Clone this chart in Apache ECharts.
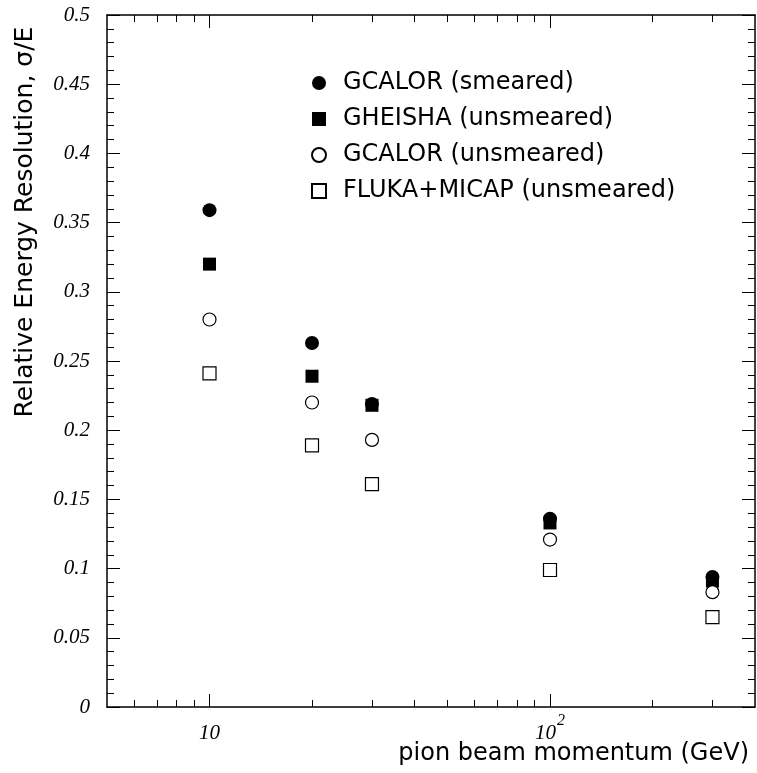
<!doctype html>
<html>
<head>
<meta charset="UTF-8"/>
<title>pion energy resolution</title>
<script src="https://cdn.jsdelivr.net/npm/echarts@6/dist/echarts.min.js"></script>
<style>
html,body{margin:0;padding:0;background:#fff;}
#chart{width:757px;height:773px;}
</style>
</head>
<body>
<div id="chart"></div>
<script>
// beam momenta (GeV)
var momenta = [10, 20, 30, 100, 300];
// sigma/E per simulation
var gcalorSmeared   = [0.359, 0.263, 0.219, 0.136, 0.094];
var gheishaUnsm     = [0.320, 0.239, 0.218, 0.133, 0.091];
var gcalorUnsm      = [0.280, 0.220, 0.193, 0.121, 0.083];
var flukaMicapUnsm  = [0.241, 0.189, 0.161, 0.099, 0.065];

var seriesNames = ['GCALOR (smeared)', 'GHEISHA (unsmeared)', 'GCALOR (unsmeared)', 'FLUKA+MICAP (unsmeared)'];

var xMajor = [10, 100];
var xMinor = [6, 7, 8, 9, 20, 30, 40, 50, 60, 70, 80, 90, 200, 300];

function pairs(ys) {
    return momenta.map(function (x, i) { return [x, ys[i]]; });
}

var myChart = echarts.init(document.getElementById('chart'));

var black = '#000';
var sans = 'DejaVu Sans';

function xAx(pos, vals, len, showLine, showLabel) {
    return {
        type: 'log',
        logBase: 10,
        min: 5,
        max: 400,
        position: pos,
        axisLine: { show: showLine, onZero: false, lineStyle: { color: black, width: 1.5 } },
        axisTick: { show: true, inside: true, length: len, customValues: vals, lineStyle: { color: black, width: 1 } },
        axisLabel: {
            show: showLabel,
            customValues: [10, 100],
            margin: 6,
            color: black,
            formatter: function (v) {
                return v === 10 ? '{b|10}' : '{b|10}{s|2}';
            },
            rich: {
                b: { fontFamily: 'Liberation Serif', fontStyle: 'italic', fontSize: 21, color: black, padding: [10, 0, 0, 0] },
                s: { fontFamily: 'Liberation Serif', fontStyle: 'italic', fontSize: 16, color: black, verticalAlign: 'top', padding: [0, 0, 0, 1] }
            }
        },
        splitLine: { show: false }
    };
}

function yAx(pos, showLabel) {
    return {
        type: 'value',
        min: 0,
        max: 0.5,
        interval: 0.05,
        position: pos,
        axisLine: { show: true, onZero: false, lineStyle: { color: black, width: 1.5 } },
        axisTick: { show: true, inside: true, length: 13, lineStyle: { color: black, width: 1 } },
        minorTick: { show: true, splitNumber: 5, length: 7, lineStyle: { color: black, width: 1 } },
        axisLabel: {
            show: showLabel,
            margin: 17,
            fontFamily: 'Liberation Serif',
            fontStyle: 'italic',
            fontSize: 21,
            color: black,
            formatter: function (v) { return String(+v.toFixed(2)); }
        },
        splitLine: { show: false }
    };
}

option = {
    backgroundColor: '#fff',
    animation: false,
    grid: { left: 107, right: 2, top: 15, bottom: 66 },
    xAxis: [
        xAx('bottom', xMajor, 13, true, true),
        xAx('bottom', xMinor, 7, false, false),
        xAx('top', xMajor, 13, true, false),
        xAx('top', xMinor, 7, false, false)
    ],
    yAxis: [
        yAx('left', true),
        yAx('right', false)
    ],
    legend: {
        orient: 'vertical',
        left: 306,
        top: 66,
        itemGap: 12,
        itemWidth: 14,
        itemHeight: 14,
        textStyle: { fontFamily: sans, fontSize: 24, color: black, padding: [0, 0, 0, 12] },
        data: [
            { name: seriesNames[0], icon: 'circle' },
            { name: seriesNames[1], icon: 'rect' },
            { name: seriesNames[2], icon: 'circle' },
            { name: seriesNames[3], icon: 'rect' }
        ]
    },
    graphic: [
        {
            type: 'text',
            x: 25,
            y: 222,
            rotation: Math.PI / 2,
            style: {
                text: 'Relative Energy Resolution, σ/E',
                font: '25px "DejaVu Sans"',
                fill: black,
                textAlign: 'center',
                textVerticalAlign: 'middle'
            }
        },
        {
            type: 'text',
            x: 749,
            y: 754,
            style: {
                text: 'pion beam momentum (GeV)',
                font: '24px "DejaVu Sans"',
                fill: black,
                textAlign: 'right',
                textVerticalAlign: 'middle'
            }
        }
    ],
    series: [
        {
            name: seriesNames[0],
            type: 'scatter',
            symbol: 'circle',
            symbolSize: 14,
            itemStyle: { color: black, opacity: 1 },
            data: pairs(gcalorSmeared)
        },
        {
            name: seriesNames[1],
            type: 'scatter',
            symbol: 'rect',
            symbolSize: 13,
            itemStyle: { color: black, opacity: 1 },
            data: pairs(gheishaUnsm)
        },
        {
            name: seriesNames[2],
            type: 'scatter',
            symbol: 'circle',
            symbolSize: 13,
            itemStyle: { color: '#fff', borderColor: black, borderWidth: 1.2, opacity: 1 },
            data: pairs(gcalorUnsm)
        },
        {
            name: seriesNames[3],
            type: 'scatter',
            symbol: 'rect',
            symbolSize: 13,
            itemStyle: { color: '#fff', borderColor: black, borderWidth: 1.2, opacity: 1 },
            data: pairs(flukaMicapUnsm)
        }
    ]
};

myChart.setOption(option);
</script>
</body>
</html>
